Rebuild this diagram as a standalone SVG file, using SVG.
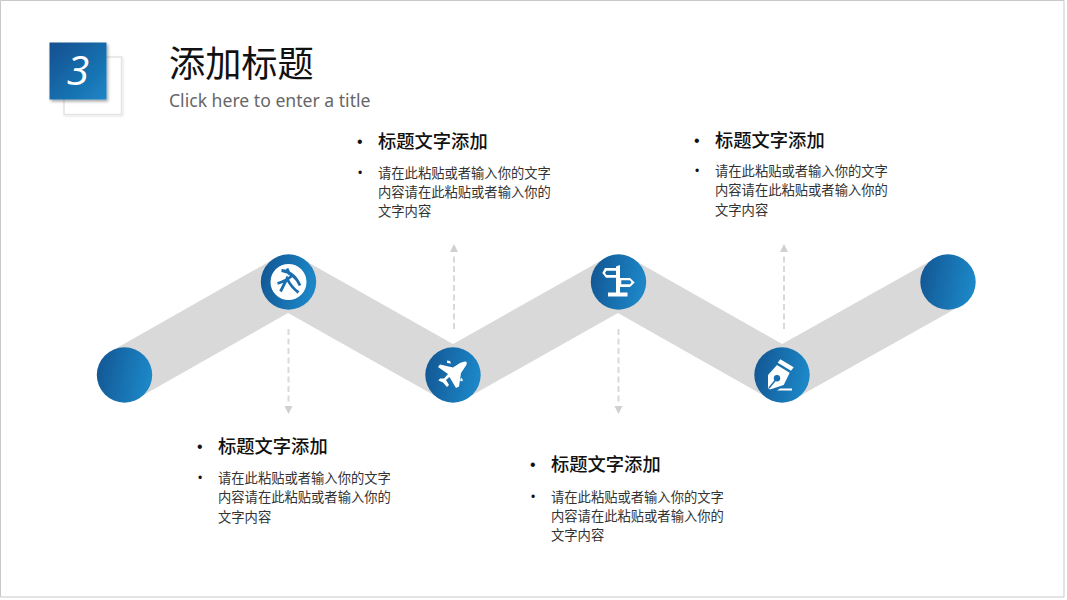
<svg xmlns="http://www.w3.org/2000/svg" width="1067" height="600" viewBox="0 0 1067 600">
<style>
text{font-family:"Noto Sans CJK SC","Noto Sans",sans-serif}
.h{font-size:18.3px;font-weight:500;fill:#111}
.b{font-size:13.3px;fill:#333}
.bu{font-family:"Liberation Sans",sans-serif;fill:#111}
.c{fill:url(#cg)}
.dash{fill:none;stroke:#d9d9d9;stroke-width:2;stroke-dasharray:6 3.5}
.ah{fill:#d0d0d0}
.ic{fill:#fff}
</style>
<defs>
<linearGradient id="cg" x1="0" y1="0" x2="1" y2="0.2"><stop offset="0" stop-color="#125491"/><stop offset="1" stop-color="#1c86c6"/></linearGradient>
<linearGradient id="sg" x1="0" y1="0" x2="1" y2="1"><stop offset="0" stop-color="#124f8e"/><stop offset="1" stop-color="#1c86c6"/></linearGradient>
<filter id="sh" x="-20%" y="-20%" width="150%" height="150%"><feDropShadow dx="1.5" dy="2" stdDeviation="1.5" flood-color="#000" flood-opacity="0.35"/></filter>
<filter id="sl" x="-20%" y="-20%" width="150%" height="150%"><feDropShadow dx="1" dy="1" stdDeviation="1" flood-color="#000" flood-opacity="0.12"/></filter>
</defs>
<rect width="1067" height="600" fill="#fff"/>
<path d="M.5 597V.5H1064V597Z" fill="none" stroke="#c9c9c9"/>
<g id="badge">
<rect x="64" y="57" width="57.500" height="57.500" fill="#fff" stroke="#e4e4e4" stroke-width="1.500" filter="url(#sl)"/>
<rect x="49.500" y="42.500" width="57" height="57" fill="url(#sg)" filter="url(#sh)"/>
<text x="78" y="85" text-anchor="middle" font-size="41" font-style="italic" font-weight="400" fill="#fff" style="font-family:'Open Sans','Noto Sans',sans-serif">3</text>
</g>
<g id="title">
<text x="169" y="77" font-size="36.200" fill="#111">添加标题</text>
<text x="169" y="107" font-size="17.600" fill="#666" style="font-family:'Noto Sans',sans-serif">Click here to enter a title</text>
</g>
<g id="connectors">
<polyline points="124,375 288,282 453,375 618,282 782,375 948,282" fill="none" stroke="#d9d9d9" stroke-width="54" stroke-linejoin="round"/>
<path class="dash" d="M288.500 329V405"/><path class="ah" d="M288.500 414l-4-8h8z"/>
<path class="dash" d="M454 329V254"/><path class="ah" d="M454 244l4 8h-8z"/>
<path class="dash" d="M618.500 329V405"/><path class="ah" d="M618.500 414l-4-8h8z"/>
<path class="dash" d="M784 329V254"/><path class="ah" d="M784 244l4 8h-8z"/>
</g>
<g id="node-start"><circle class="c" cx="124.500" cy="375" r="27.700"/></g>
<g id="node-ball">
<circle class="c" cx="288.500" cy="282" r="27.700"/>
<circle class="ic" cx="288.500" cy="282" r="18"/>
<path d="M277.500 283.500Q286 281 293 275M281.500 270.500Q294 272 300 285.500M287 268.500L290 275M280.500 291.500L287 278.500Q291 287 298.500 292.500" fill="none" stroke="#1a6dae" stroke-width="2.800"/>
</g>
<g id="node-plane">
<circle class="c" cx="453" cy="375" r="27.700"/>
<path class="ic" d="M466 361.500Q468 363 465 367L461 373L459 386.500L456 388L449.500 377L446 380L449 385L447 387L443 382.500L438.500 380.500L440 378.500L444 378.500L448 374L438 367L440 364.500L453 367.500L460 363Q464 361 466 361.500Z"/>
<path class="ic" d="M447 360.500l3 .5 1 2.500-4-.5zM461 377.500l2 2.500-1 1.500-2-1z"/>
</g>
<g id="node-sign">
<circle class="c" cx="618.500" cy="282" r="27.700"/>
<path class="ic" fill-rule="evenodd" d="M616 266.500L620 265V278H630L634.700 282.500L630 287H620V292.500H627.500V296.500H608V292.500H616V277.700H606L602.300 273L605 268H616ZM606.500 270.700L605 273L606.500 275H616V270.700ZM621.300 280.300V284.300H630L631.500 282.300L630 280.300Z"/>
</g>
<g id="node-pen">
<circle class="c" cx="782" cy="375" r="27.700"/>
<path class="ic" d="M777.700 362.700L780.300 359.300L793.700 367.300L791 370.700ZM777 365L789.700 372.700L783.700 385L770 389.500L768 388L768 375ZM780 388.500L792 388.500V390.500L777 390.500Z"/>
<circle cx="777" cy="378.300" r="3.200" fill="#1a6dae"/>
<path d="M777 378.300L769 388" stroke="#1a6dae" stroke-width="1.500"/>
</g>
<g id="node-end"><circle class="c" cx="948" cy="282" r="27.700"/></g>
<g id="text-top-left">
<text class="bu" x="357" y="147" font-size="16">•</text>
<text class="h" x="378" y="148">标题文字添加</text>
<text class="bu" x="358" y="177" font-size="12">•</text>
<text class="b" x="378" y="178">请在此粘贴或者输入你的文字</text>
<text class="b" x="378" y="197">内容请在此粘贴或者输入你的</text>
<text class="b" x="378" y="216">文字内容</text>
</g>
<g id="text-top-right">
<text class="bu" x="694" y="146" font-size="16">•</text>
<text class="h" x="715" y="147">标题文字添加</text>
<text class="bu" x="695" y="175" font-size="12">•</text>
<text class="b" x="715" y="176">请在此粘贴或者输入你的文字</text>
<text class="b" x="715" y="195">内容请在此粘贴或者输入你的</text>
<text class="b" x="715" y="215">文字内容</text>
</g>
<g id="text-bottom-left">
<text class="bu" x="197" y="452" font-size="16">•</text>
<text class="h" x="218" y="453">标题文字添加</text>
<text class="bu" x="198" y="482" font-size="12">•</text>
<text class="b" x="218" y="483">请在此粘贴或者输入你的文字</text>
<text class="b" x="218" y="502">内容请在此粘贴或者输入你的</text>
<text class="b" x="218" y="522">文字内容</text>
</g>
<g id="text-bottom-right">
<text class="bu" x="530" y="470" font-size="16">•</text>
<text class="h" x="551" y="471">标题文字添加</text>
<text class="bu" x="531" y="501" font-size="12">•</text>
<text class="b" x="551" y="502">请在此粘贴或者输入你的文字</text>
<text class="b" x="551" y="521">内容请在此粘贴或者输入你的</text>
<text class="b" x="551" y="540">文字内容</text>
</g>
</svg>
